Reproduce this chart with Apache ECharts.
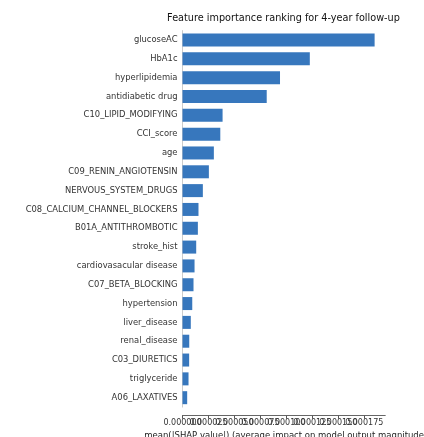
<!DOCTYPE html>
<html>
<head>
<meta charset="utf-8">
<script src="https://cdn.jsdelivr.net/npm/echarts@6/dist/echarts.min.js"></script>
<style>
html,body{margin:0;padding:0;background:#fff;}
#c{width:424px;height:437px;}
</style>
</head>
<body>
<div id="c"></div>
<script>
const titleText = 'Feature importance ranking for 4-year follow-up';
const xAxisName = 'mean(|SHAP value|) (average impact on model output magnitude)';
const features = ['glucoseAC','HbA1c','hyperlipidemia','antidiabetic drug','C10_LIPID_MODIFYING','CCI_score','age','C09_RENIN_ANGIOTENSIN','NERVOUS_SYSTEM_DRUGS','C08_CALCIUM_CHANNEL_BLOCKERS','B01A_ANTITHROMBOTIC','stroke_hist','cardiovasacular disease','C07_BETA_BLOCKING','hypertension','liver_disease','renal_disease','C03_DIURETICS','triglyceride','A06_LAXATIVES'];
const importance = [0.0001850,0.0001226,0.0000939,0.0000811,0.0000386,0.0000364,0.0000302,0.0000254,0.0000196,0.0000154,0.0000148,0.0000132,0.0000116,0.0000106,0.0000094,0.0000080,0.0000065,0.0000064,0.0000058,0.0000045];
const xTicks = [0,0.000025,0.00005,0.000075,0.0001,0.000125,0.00015,0.000175];
const xMax = 0.000195;

const ticksEven = xTicks.filter((_, i) => i % 2 === 0);
const ticksOdd = xTicks.filter((_, i) => i % 2 === 1);

function makeX(ticks, withName) {
  return {
    type:'value',min:0,max:xMax,interval:0.000025,offset:8.6,position:'bottom',
    name: withName ? xAxisName : '',nameLocation:'middle',nameGap:13,
    nameTextStyle:{fontSize:8.5,color:'#222',fontFamily:'DejaVu Sans',padding:[0,0,0,4]},
    splitLine:{show:false},
    axisLine:{show:true,lineStyle:{color:'#666',width:1}},
    axisTick:{show:true,length:3,customValues:ticks,lineStyle:{color:'#555'}},
    axisLabel:{customValues:ticks,fontSize:8,color:'#333',margin:3,hideOverlap:false,
      showMinLabel:true,showMaxLabel:true,
      formatter:v=>Number(v).toFixed(6)}
  };
}

const chart = echarts.init(document.getElementById('c'));
chart.setOption({
  animation:false,
  backgroundColor:'#fff',
  textStyle:{fontFamily:'DejaVu Sans'},
  title:{text:titleText,left:278.5,top:8,textAlign:'center',
    textStyle:{fontSize:9.7,fontWeight:'normal',color:'#111',fontFamily:'DejaVu Sans'}},
  grid:{left:182.5,right:39,top:30.6,bottom:29.9,containLabel:false,outerBoundsMode:'none'},
  xAxis:[makeX(ticksEven,true),makeX(ticksOdd,false)],
  yAxis:{type:'category',data:features,inverse:true,
    axisLine:{show:true,lineStyle:{color:'#ccc',width:1}},
    axisTick:{show:false},
    axisLabel:{fontSize:8.4,color:'#333',margin:5}},
  series:[{type:'bar',data:importance,barWidth:13,xAxisIndex:0,itemStyle:{color:'#3777bd'}}]
});
</script>
</body>
</html>
